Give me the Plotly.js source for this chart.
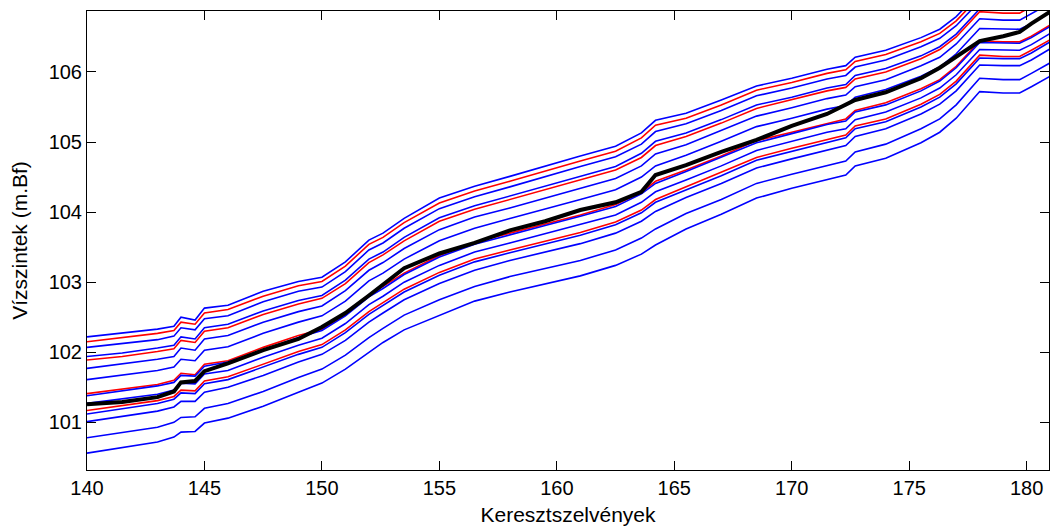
<!DOCTYPE html>
<html>
<head>
<meta charset="utf-8">
<script src="https://cdn.plot.ly/plotly-3.0.1.min.js"></script>
<style>html,body{margin:0;padding:0;background:#fff;}#chart{width:1051px;height:527px;}</style>
</head>
<body>
<div id="chart"></div>
<script>
// Cross-section positions (km)
const sections = [140, 141.5, 143, 143.7, 144, 144.6, 145, 146, 147.5, 149, 150, 151, 152, 152.6, 153.5, 155, 156.5, 158, 159.5, 161, 162.5, 163.6, 164.2, 165.5, 167, 168.5, 170, 171.5, 172.3, 172.7, 174, 175.5, 176.3, 177, 178, 179, 179.7, 180.2, 181];

// Water-level profiles (m.Bf), top to bottom
const p01 = [102.22, 102.27, 102.33, 102.37, 102.50, 102.46, 102.63, 102.67, 102.87, 103.01, 103.07, 103.29, 103.60, 103.70, 103.91, 104.20, 104.37, 104.51, 104.66, 104.80, 104.94, 105.13, 105.31, 105.41, 105.60, 105.80, 105.91, 106.04, 106.09, 106.21, 106.31, 106.49, 106.61, 106.79, 107.14, 107.13, 107.13, 107.21, 107.37];
const p02 = [102.15, 102.21, 102.27, 102.31, 102.43, 102.40, 102.56, 102.61, 102.80, 102.95, 103.01, 103.23, 103.54, 103.64, 103.85, 104.13, 104.30, 104.44, 104.59, 104.73, 104.87, 105.06, 105.24, 105.34, 105.53, 105.74, 105.85, 105.98, 106.03, 106.15, 106.25, 106.43, 106.55, 106.73, 107.08, 107.07, 107.07, 107.15, 107.31];
const p03 = [102.07, 102.12, 102.18, 102.23, 102.35, 102.32, 102.48, 102.52, 102.72, 102.87, 102.93, 103.15, 103.46, 103.56, 103.77, 104.05, 104.22, 104.36, 104.51, 104.65, 104.79, 104.97, 105.15, 105.26, 105.45, 105.66, 105.77, 105.90, 105.95, 106.07, 106.17, 106.36, 106.48, 106.66, 107.01, 107.00, 107.00, 107.08, 107.24];
const p04 = [101.94, 101.99, 102.06, 102.10, 102.22, 102.19, 102.35, 102.40, 102.59, 102.74, 102.81, 103.03, 103.33, 103.43, 103.64, 103.92, 104.09, 104.23, 104.37, 104.51, 104.65, 104.84, 105.01, 105.13, 105.32, 105.53, 105.64, 105.77, 105.82, 105.95, 106.05, 106.23, 106.36, 106.54, 106.90, 106.89, 106.89, 106.97, 107.13];
const p05 = [101.89, 101.94, 102.01, 102.05, 102.17, 102.14, 102.30, 102.35, 102.54, 102.69, 102.77, 102.98, 103.28, 103.39, 103.59, 103.87, 104.04, 104.18, 104.32, 104.46, 104.60, 104.78, 104.95, 105.08, 105.27, 105.48, 105.60, 105.73, 105.78, 105.90, 106.00, 106.19, 106.32, 106.50, 106.86, 106.84, 106.84, 106.93, 107.08];
const p06 = [101.77, 101.83, 101.90, 101.94, 102.06, 102.03, 102.19, 102.24, 102.43, 102.58, 102.66, 102.88, 103.17, 103.28, 103.48, 103.75, 103.93, 104.06, 104.20, 104.34, 104.48, 104.66, 104.83, 104.96, 105.16, 105.37, 105.49, 105.62, 105.67, 105.79, 105.89, 106.09, 106.21, 106.40, 106.76, 106.74, 106.74, 106.83, 106.98];
const p07 = [101.61, 101.68, 101.74, 101.79, 101.90, 101.88, 102.03, 102.08, 102.27, 102.43, 102.52, 102.73, 103.02, 103.13, 103.33, 103.59, 103.77, 103.91, 104.04, 104.18, 104.32, 104.50, 104.66, 104.81, 105.01, 105.22, 105.34, 105.47, 105.52, 105.64, 105.75, 105.94, 106.07, 106.26, 106.62, 106.61, 106.61, 106.69, 106.85];
const p08 = [101.41, 101.47, 101.54, 101.60, 101.70, 101.68, 101.83, 101.88, 102.07, 102.24, 102.33, 102.54, 102.82, 102.94, 103.13, 103.38, 103.57, 103.70, 103.83, 103.96, 104.11, 104.28, 104.44, 104.60, 104.80, 105.02, 105.14, 105.27, 105.33, 105.45, 105.56, 105.76, 105.89, 106.08, 106.44, 106.43, 106.43, 106.51, 106.67];
const p09 = [101.38, 101.45, 101.52, 101.57, 101.67, 101.66, 101.80, 101.86, 102.04, 102.21, 102.31, 102.52, 102.79, 102.91, 103.11, 103.36, 103.54, 103.68, 103.81, 103.94, 104.08, 104.26, 104.41, 104.58, 104.78, 104.99, 105.12, 105.25, 105.30, 105.43, 105.53, 105.73, 105.87, 106.06, 106.42, 106.41, 106.41, 106.49, 106.65];
const p10 = [101.27, 101.33, 101.40, 101.46, 101.56, 101.55, 101.69, 101.74, 101.93, 102.10, 102.20, 102.41, 102.68, 102.80, 103.00, 103.24, 103.43, 103.56, 103.69, 103.82, 103.96, 104.14, 104.29, 104.46, 104.66, 104.88, 105.01, 105.14, 105.19, 105.32, 105.43, 105.63, 105.77, 105.96, 106.32, 106.31, 106.31, 106.39, 106.55];
const p11 = [101.17, 101.24, 101.31, 101.37, 101.46, 101.45, 101.59, 101.65, 101.83, 102.01, 102.11, 102.32, 102.58, 102.71, 102.90, 103.14, 103.33, 103.46, 103.59, 103.71, 103.86, 104.03, 104.18, 104.36, 104.57, 104.78, 104.91, 105.04, 105.10, 105.23, 105.33, 105.54, 105.68, 105.87, 106.24, 106.22, 106.22, 106.31, 106.46];
const p12 = [101.12, 101.19, 101.27, 101.33, 101.42, 101.41, 101.55, 101.61, 101.79, 101.97, 102.07, 102.28, 102.54, 102.67, 102.86, 103.10, 103.29, 103.42, 103.55, 103.67, 103.82, 103.99, 104.14, 104.32, 104.52, 104.74, 104.87, 105.00, 105.06, 105.19, 105.29, 105.50, 105.64, 105.83, 106.20, 106.19, 106.19, 106.27, 106.43];
const p13 = [101.01, 101.08, 101.16, 101.22, 101.30, 101.30, 101.43, 101.50, 101.67, 101.86, 101.97, 102.17, 102.43, 102.56, 102.75, 102.98, 103.17, 103.31, 103.43, 103.55, 103.70, 103.87, 104.01, 104.21, 104.41, 104.63, 104.76, 104.89, 104.95, 105.08, 105.19, 105.40, 105.54, 105.73, 106.10, 106.09, 106.09, 106.17, 106.33];
const p14 = [100.78, 100.85, 100.93, 101.00, 101.07, 101.08, 101.20, 101.27, 101.44, 101.64, 101.76, 101.96, 102.21, 102.34, 102.53, 102.75, 102.94, 103.08, 103.19, 103.31, 103.46, 103.63, 103.76, 103.98, 104.18, 104.41, 104.54, 104.67, 104.73, 104.86, 104.97, 105.19, 105.33, 105.53, 105.91, 105.89, 105.89, 105.98, 106.13];
const p15 = [100.56, 100.64, 100.72, 100.79, 100.86, 100.87, 100.99, 101.06, 101.23, 101.43, 101.56, 101.76, 102.00, 102.14, 102.32, 102.53, 102.73, 102.86, 102.97, 103.09, 103.24, 103.40, 103.53, 103.76, 103.97, 104.20, 104.34, 104.47, 104.53, 104.66, 104.77, 104.99, 105.14, 105.34, 105.72, 105.70, 105.70, 105.79, 105.94];
// Thick black profile
const measured = [101.26, 101.29, 101.36, 101.44, 101.57, 101.59, 101.73, 101.84, 102.03, 102.19, 102.36, 102.56, 102.81, 102.97, 103.20, 103.41, 103.56, 103.74, 103.87, 104.03, 104.14, 104.29, 104.53, 104.67, 104.86, 105.03, 105.23, 105.40, 105.54, 105.60, 105.71, 105.91, 106.06, 106.21, 106.44, 106.51, 106.57, 106.69, 106.86];

const xTicks = [140, 145, 150, 155, 160, 165, 170, 175, 180];
const yTicks = [101, 102, 103, 104, 105, 106];

const BLUE = '#0000ff', RED = '#ff0000';
const profiles = [
  [p01, BLUE], [p02, RED], [p03, BLUE], [p04, BLUE], [p05, RED], [p06, BLUE],
  [p07, BLUE], [p08, RED], [p09, BLUE], [p10, BLUE], [p11, RED], [p12, BLUE],
  [p13, BLUE], [p14, BLUE], [p15, BLUE]
];

const traces = profiles.map(([ys, c]) => ({
  x: sections, y: ys, type: 'scatter', mode: 'lines',
  line: {color: c, width: 1.6}, hoverinfo: 'skip', showlegend: false
}));
traces.push({
  x: sections, y: measured, type: 'scatter', mode: 'lines',
  line: {color: '#000000', width: 4}, hoverinfo: 'skip', showlegend: false
});

const FONT = 'Liberation Sans, Arial, Helvetica, sans-serif';
const layout = {
  width: 1051, height: 527,
  margin: {l: 87, r: 2, t: 11, b: 57, pad: 0},
  paper_bgcolor: '#ffffff', plot_bgcolor: '#ffffff',
  showlegend: false,
  font: {family: FONT, size: 20, color: '#000000'},
  xaxis: {
    range: [140, 180.95], tickvals: xTicks, ticktext: xTicks.map(String),
    ticks: 'inside', ticklen: 9, tickwidth: 1, tickcolor: '#000',
    showline: true, linecolor: '#000', linewidth: 1, mirror: 'ticks',
    showgrid: false, zeroline: false,
    tickfont: {family: FONT, size: 20, color: '#000'},
    title: {text: 'Keresztszelvények', font: {family: FONT, size: 21, color: '#000'}, standoff: 9}
  },
  yaxis: {
    range: [100.32, 106.87], tickvals: yTicks, ticktext: yTicks.map(String),
    ticks: 'inside', ticklen: 9, tickwidth: 1, tickcolor: '#000',
    showline: true, linecolor: '#000', linewidth: 1, mirror: 'ticks',
    showgrid: false, zeroline: false,
    tickfont: {family: FONT, size: 20, color: '#000'},
    title: {text: 'Vízszintek (m.Bf)', font: {family: FONT, size: 21, color: '#000'}, standoff: 15}
  }
};

Plotly.newPlot('chart', traces, layout, {staticPlot: true, displayModeBar: false});
</script>
</body>
</html>
